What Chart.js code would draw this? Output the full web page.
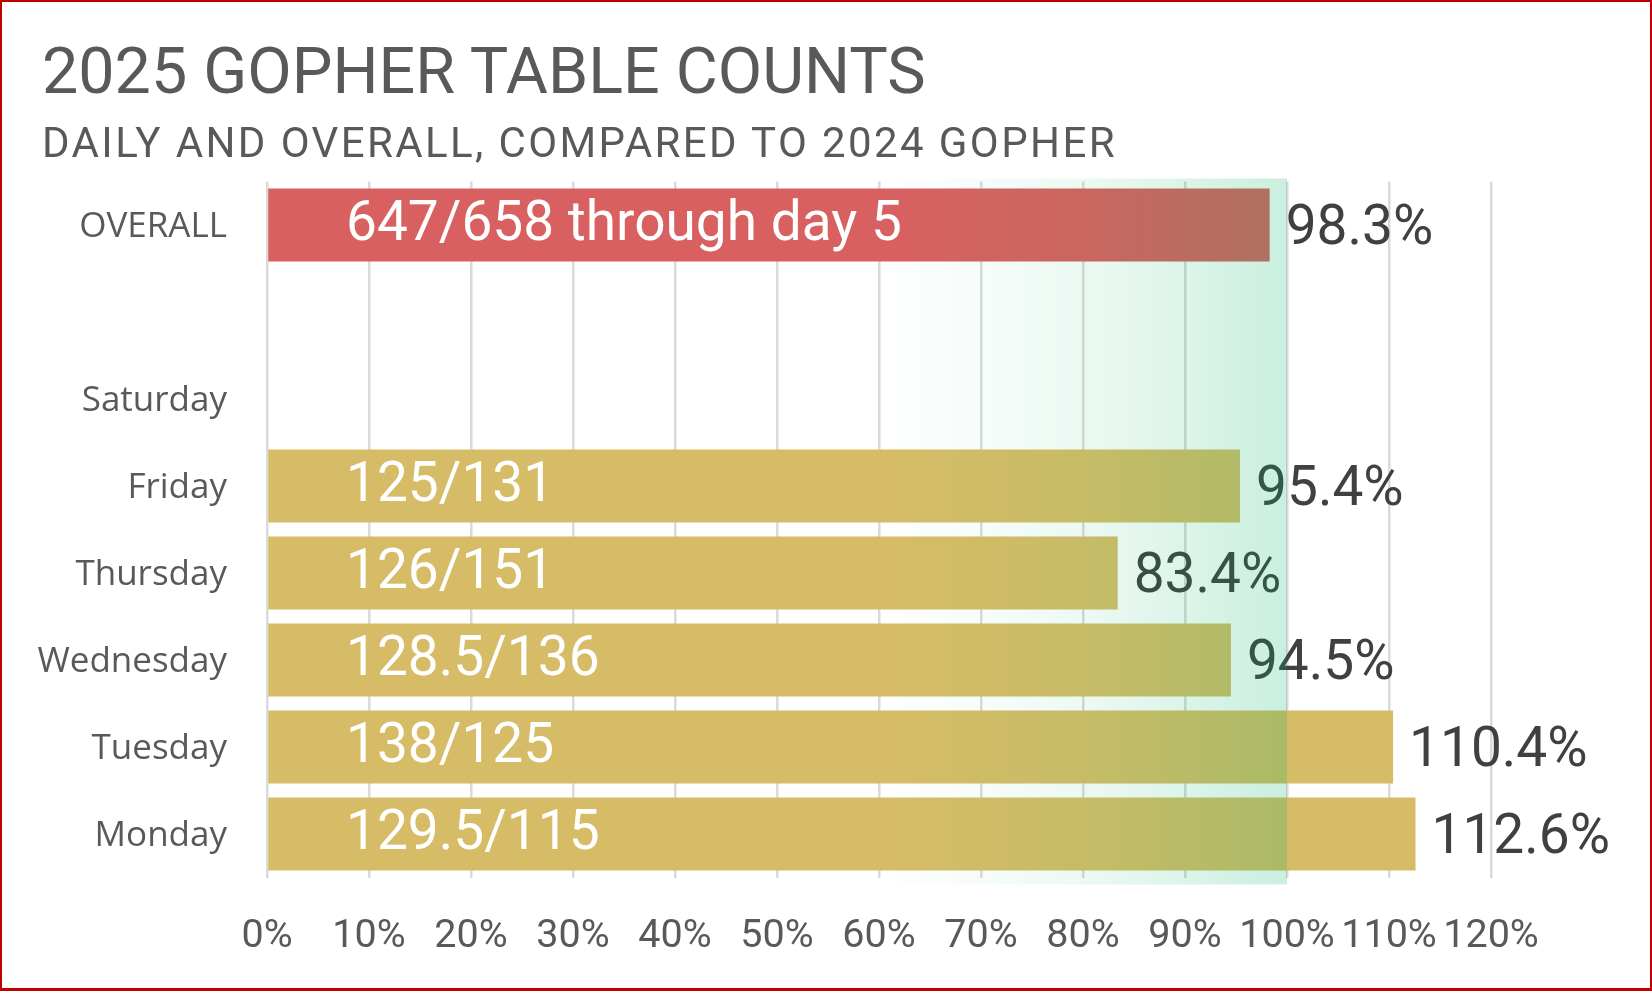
<!DOCTYPE html>
<html>
<head>
<meta charset="utf-8">
<script src="https://cdn.jsdelivr.net/npm/chart.js@4.4.1/dist/chart.umd.min.js"></script>
<style>
html,body{margin:0;padding:0;background:#fff;}
#wrap{position:relative;width:1652px;height:991px;overflow:hidden;background:#fff;}
#frame{position:absolute;left:0;top:0;width:1652px;height:991px;box-sizing:border-box;border:2px solid #c00000;border-bottom-width:3px;pointer-events:none;}
#title{position:absolute;left:42px;top:39px;font-family:Roboto;font-size:64.6px;line-height:64px;color:#595959;white-space:nowrap;}
#subtitle{position:absolute;left:42px;top:122px;font-family:Roboto;font-size:42px;line-height:42px;letter-spacing:2.4px;color:#595959;white-space:nowrap;}
canvas{position:absolute;left:0;top:0;}
</style>
</head>
<body>
<div id="wrap">
  <canvas id="c" width="1652" height="991"></canvas>
  <div id="title">2025 GOPHER TABLE COUNTS</div>
  <div id="subtitle">DAILY AND OVERALL, COMPARED TO 2024 GOPHER</div>
  <div id="frame"></div>
</div>
<script>
// ---- data ----
const categories = ['OVERALL', '', 'Saturday', 'Friday', 'Thursday', 'Wednesday', 'Tuesday', 'Monday'];
const pctValues  = [98.3, null, null, 95.4, 83.4, 94.5, 110.4, 112.6];
const barTexts   = ['647/658 through day 5', '', '', '125/131', '126/151', '128.5/136', '138/125', '129.5/115'];
const xTickValues = [0, 10, 20, 30, 40, 50, 60, 70, 80, 90, 100, 110, 120];

const RED = 'rgb(217,96,96)';
const GOLD = 'rgb(215,188,103)';

const labelPlugin = {
  id: 'labelsAndBand',
  afterDraw(chart) {
    const ctx = chart.ctx;
    const meta = chart.getDatasetMeta(0);
    const xs = chart.scales.x;
    const area = chart.chartArea;
    ctx.save();
    ctx.textBaseline = 'middle';
    ctx.textAlign = 'left';
    meta.data.forEach((el, i) => {
      const v = pctValues[i];
      if (v === null || v === undefined) return;
      ctx.font = '55px Roboto';
      ctx.fillStyle = '#ffffff';
      ctx.fillText(barTexts[i], xs.getPixelForValue(0) + 79, el.y + 1.5);
      ctx.font = '55px Roboto';
      ctx.fillStyle = '#404040';
      ctx.fillText(v.toFixed(1) + '%', el.x + 16, el.y + 5.5);
    });
    // green target band (drawn over everything)
    const x0 = xs.getPixelForValue(60);
    const x1 = xs.getPixelForValue(100);
    const g = ctx.createLinearGradient(x0, 0, x1, 0);
    g.addColorStop(0, 'rgba(5,180,100,0)');
    g.addColorStop(0.5, 'rgba(5,180,100,0.075)');
    g.addColorStop(1, 'rgba(5,180,100,0.21)');
    ctx.fillStyle = g;
    ctx.fillRect(x0, area.top - 3, x1 - x0, area.bottom - area.top + 10);
    ctx.restore();
  }
};

new Chart(document.getElementById('c'), {
  type: 'bar',
  data: {
    labels: categories,
    datasets: [{
      data: pctValues,
      backgroundColor: categories.map(c => c === 'OVERALL' ? RED : GOLD),
      borderWidth: 0,
      barPercentage: 0.84,
      categoryPercentage: 1
    }]
  },
  options: {
    responsive: false,
    animation: false,
    indexAxis: 'y',
    layout: { padding: { left: 0, right: 161, top: 181.5, bottom: 0 } },
    plugins: { legend: { display: false }, tooltip: { enabled: false }, title: { display: false } },
    scales: {
      x: {
        min: 0, max: 120,
        z: 1,
        afterBuildTicks: s => { s.ticks = xTickValues.map(v => ({ value: v })); },
        afterFit: s => { s.height = 113.5; },
        ticks: {
          callback: v => v + '%',
          font: { family: 'Roboto', size: 39.5 },
          color: '#595959',
          padding: 35.5,
          maxRotation: 0,
          autoSkip: false
        },
        grid: { color: 'rgba(140,140,140,0.32)', lineWidth: 2.5, drawTicks: false },
        border: { display: false }
      },
      y: {
        afterFit: s => { s.width = 267; },
        ticks: {
          font: { family: 'Open Sans', size: 35 },
          color: '#595959',
          padding: 40,
          labelOffset: 2
        },
        grid: { display: false, drawTicks: false },
        border: { display: false }
      }
    }
  },
  plugins: [labelPlugin]
});
</script>
</body>
</html>
